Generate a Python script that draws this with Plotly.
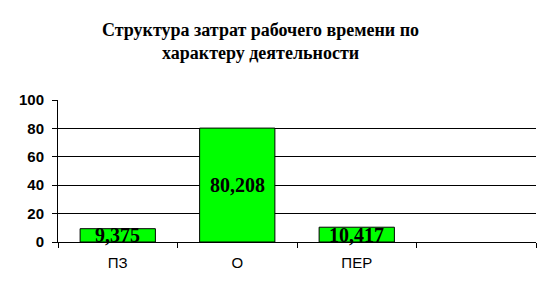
import plotly.graph_objects as go

categories = ["ПЗ", "О", "ПЕР", " "]
values = [9.375, 80.208, 10.417, None]
labels = ["9,375", "80,208", "10,417", ""]
title_text = "Структура затрат рабочего времени по<br>характеру деятельности"

fig = go.Figure()
fig.add_trace(go.Bar(
    x=categories, y=values,
    marker=dict(color="#00FF00", line=dict(color="black", width=1)),
    width=0.63,
    hoverinfo="skip",
))

for c, v, t in zip(categories, values, labels):
    if v is None:
        continue
    fig.add_annotation(x=c, y=v / 2, text=t, showarrow=False,
                       font=dict(family="Liberation Serif", size=20, color="black", weight="bold"),
                       yanchor="middle")

fig.update_layout(
    width=552, height=297,
    margin=dict(l=58, r=16, t=100, b=55),
    paper_bgcolor="white", plot_bgcolor="white",
    showlegend=False,
    title=dict(text="<b>" + title_text + "</b>", x=0.472, xanchor="center", y=0.88, yanchor="middle",
               font=dict(family="Liberation Serif", size=18, color="black")),
    bargap=0.37,
)
fig.update_xaxes(
    type="category", categoryorder="array", categoryarray=categories,
    range=[-0.5, 3.5],
    showline=True, linecolor="black", linewidth=1,
    ticks="outside", tickson="boundaries", ticklen=5, tickcolor="black",
    tickfont=dict(family="Liberation Sans", size=15, color="black"),
    ticklabelstandoff=7,
    showgrid=False,
)
fig.update_yaxes(
    range=[0, 100], dtick=20, tick0=0,
    showline=True, linecolor="black", linewidth=1,
    ticks="outside", ticklen=5, tickcolor="black",
    showgrid=True, gridcolor="black", gridwidth=1,
    zeroline=False,
    tickfont=dict(family="Liberation Sans", size=15, color="black", weight="bold"),
    ticklabelstandoff=5,
)

fig.write_html("out.html")
